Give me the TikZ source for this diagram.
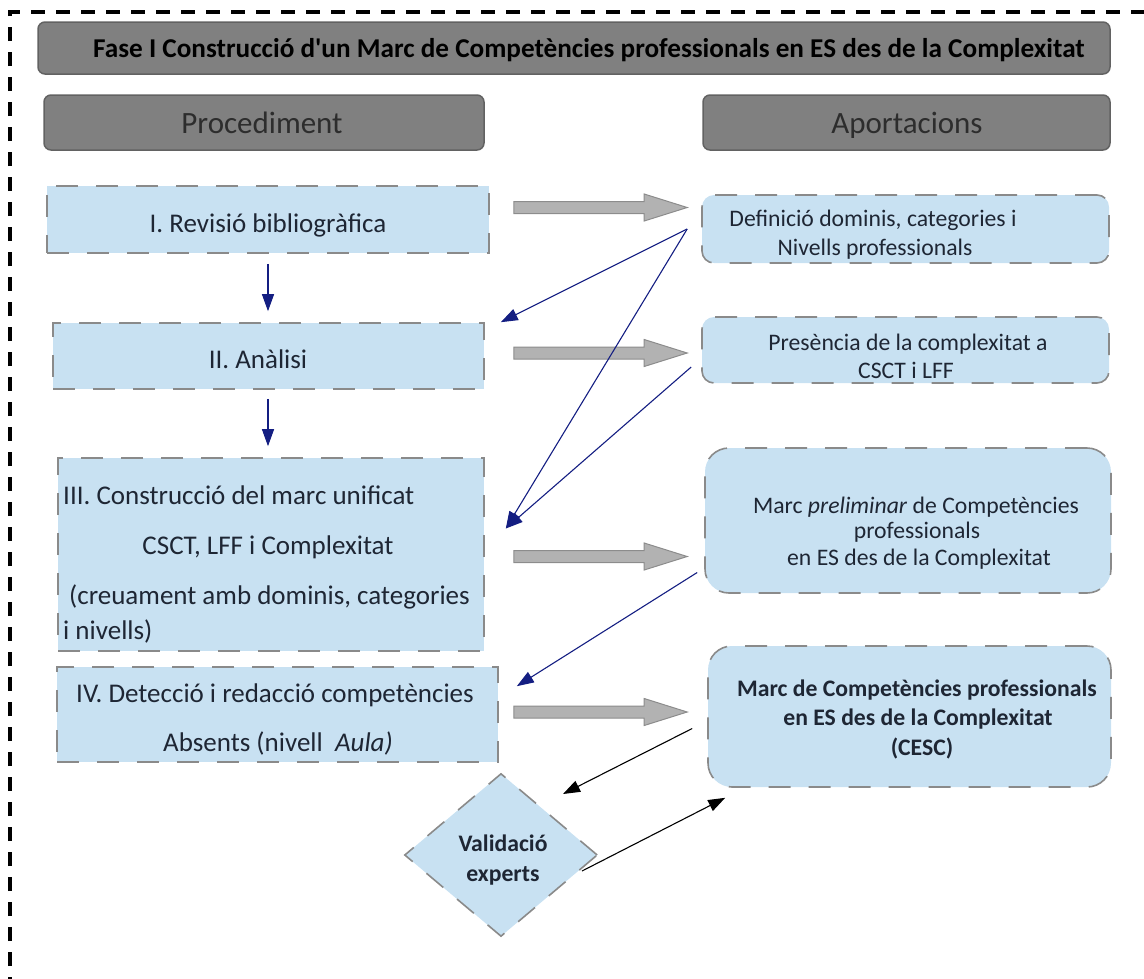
\documentclass[tikz,border=0pt]{standalone}
\usepackage{fontspec}
\setmainfont{Carlito}[Ligatures=TeXOff]
\usetikzlibrary{shapes.geometric,arrows.meta,calc}

\definecolor{boxfill}{RGB}{200,225,242}
\definecolor{boxline}{RGB}{138,138,138}
\definecolor{headfill}{RGB}{128,128,128}
\definecolor{headline}{RGB}{98,98,98}
\definecolor{navy}{RGB}{20,30,130}
\definecolor{inktext}{RGB}{30,38,52}
\definecolor{headtext}{RGB}{45,45,45}
\definecolor{barfill}{RGB}{178,178,178}
\definecolor{barline}{RGB}{140,140,140}

\begin{document}
\begin{tikzpicture}[x=1pt,y=-1pt,
  header/.style={draw=headline, line width=1.5pt, fill=headfill, rounded corners=7pt, inner sep=0pt},
  stepbox/.style={draw=boxline, line width=1.6pt, dash pattern=on 22pt off 18pt, fill=boxfill, inner sep=0pt},
  outbox/.style={stepbox, rounded corners=#1},
  titletxt/.style={inner sep=0pt, anchor=base, text=black, font=\bfseries\fontsize{27.2}{32}\selectfont},
  headtxt/.style={inner sep=0pt, anchor=base, text=headtext, font=\fontsize{31}{36}\selectfont},
  txt/.style={inner sep=0pt, anchor=base, text=inktext, font=\fontsize{27}{33}\selectfont},
  rtxt/.style={inner sep=0pt, anchor=base, text=inktext, font=\fontsize{23.7}{28}\selectfont},
  btxt/.style={inner sep=0pt, anchor=base, text=inktext, font=\bfseries\fontsize{23.7}{28}\selectfont},
  navyarrow/.style={draw=navy, line width=1.1pt, -{Triangle[length=17pt,width=12pt]}},
  blackarrow/.style={draw=black, line width=1.1pt, -{Triangle[length=17pt,width=12pt]}},
  grayarrow/.style={fill=barfill, draw=barline, line width=1pt},
]
\useasboundingbox (0,0) rectangle (1144,978);

% outer dashed frame (top and left edges)
\begin{scope}
  \clip (0,0) rectangle (1144,978);
  \draw[line width=4.5pt, dash pattern=on 14pt off 11pt] (10,991) -- (10,12) -- (1170,12);
\end{scope}

% header bars
\node[header, minimum width=1072pt, minimum height=52pt] (title) at (574,48) {};
\node[header, minimum width=440pt, minimum height=55pt] (proc) at (264,122.5) {};
\node[header, minimum width=407pt, minimum height=55pt] (aport) at (906.5,122.5) {};
\node[titletxt] (ttitle) at (589,57) {Fase I Construcció d'un Marc de Competències professionals en ES des de la Complexitat};
\node[headtxt] (tproc) at (262,133) {Procediment};
\node[headtxt] (taport) at (907,133) {Aportacions};

% procedure steps
\node[stepbox, minimum width=442pt, minimum height=67pt] (b1) at (268,219.5) {};
\node[stepbox, minimum width=431pt, minimum height=66pt] (b2) at (268.5,356) {};
\node[stepbox, minimum width=426pt, minimum height=193pt] (b3) at (271,554.5) {};
\node[stepbox, minimum width=441pt, minimum height=95pt] (b4) at (277.5,714.5) {};
\node[stepbox, diamond, aspect=1.18, minimum width=193pt, minimum height=163pt] (dia) at (501,855) {};

\node[txt] (t1) at (268,232) {I. Revisió bibliogràfica};
\node[txt] (t2) at (258,368) {II. Anàlisi};
\node[txt, anchor=base west] (t3a) at (63,504) {III. Construcció del marc unificat};
\node[txt] (t3b) at (268,554) {CSCT, LFF i Complexitat};
\node[txt, anchor=base west] (t3c) at (69,604) {(creuament amb dominis, categories};
\node[txt, anchor=base west] (t3d) at (63,639) {i nivells)};
\node[txt] (t4a) at (275,702) {IV. Detecció i redacció competències};
\node[txt] (t4b) at (278,751) {Absents (nivell\ \ \textit{Aula)}};
\node[btxt] (td1) at (503,851) {Validació};
\node[btxt] (td2) at (503,881) {experts};

% contributions
\node[outbox=12pt, minimum width=407pt, minimum height=68pt] (r1) at (905.5,229) {};
\node[outbox=12pt, minimum width=407pt, minimum height=66pt] (r2) at (905.5,350) {};
\node[outbox=24pt, minimum width=406pt, minimum height=145pt] (r3) at (908,520.5) {};
\node[outbox=24pt, minimum width=403pt, minimum height=141pt] (r4) at (909.5,716.5) {};

\node[rtxt] (tr1a) at (873,226) {Definició dominis, categories i};
\node[rtxt] (tr1b) at (875,255) {Nivells professionals};
\node[rtxt] (tr2a) at (908,350) {Presència de la complexitat a};
\node[rtxt] (tr2b) at (906,378) {CSCT i LFF};
\node[rtxt] (tr3a) at (916,513) {Marc \textit{preliminar} de Competències};
\node[rtxt] (tr3b) at (917,538) {professionals};
\node[rtxt] (tr3c) at (919,565) {en ES des de la Complexitat};
\node[btxt] (tr4a) at (917,696) {Marc de Competències professionals};
\node[btxt] (tr4b) at (918,725) {en ES des de la Complexitat};
\node[btxt] (tr4c) at (922,755) {(CESC)};

% wide grey arrows from each step to its contribution
\draw[grayarrow] let \p1=([xshift=24pt,yshift=12pt]b1.east), \p2=([xshift=-14pt]r1.west) in
  (\x1,\y1+6pt) -- (\x2-43pt,\y1+6pt) -- (\x2-43pt,\y1+13.5pt) -- (\x2,\y1) -- (\x2-43pt,\y1-13.5pt) -- (\x2-43pt,\y1-6pt) -- (\x1,\y1-6pt) -- cycle;
\draw[grayarrow] let \p1=([xshift=29pt,yshift=3pt]b2.east), \p2=([xshift=-14pt]r2.west) in
  (\x1,\y1+6pt) -- (\x2-43pt,\y1+6pt) -- (\x2-43pt,\y1+13.5pt) -- (\x2,\y1) -- (\x2-43pt,\y1-13.5pt) -- (\x2-43pt,\y1-6pt) -- (\x1,\y1-6pt) -- cycle;
\draw[grayarrow] let \p1=([xshift=29pt,yshift=-2pt]b3.east), \p2=([xshift=-17pt]r3.west) in
  (\x1,\y1+6pt) -- (\x2-43pt,\y1+6pt) -- (\x2-43pt,\y1+13.5pt) -- (\x2,\y1) -- (\x2-43pt,\y1-13.5pt) -- (\x2-43pt,\y1-6pt) -- (\x1,\y1-6pt) -- cycle;
\draw[grayarrow] let \p1=([xshift=15pt,yshift=2.5pt]b4.east), \p2=([xshift=-20pt]r4.west) in
  (\x1,\y1+6pt) -- (\x2-43pt,\y1+6pt) -- (\x2-43pt,\y1+13.5pt) -- (\x2,\y1) -- (\x2-43pt,\y1-13.5pt) -- (\x2-43pt,\y1-6pt) -- (\x1,\y1-6pt) -- cycle;

% sequence of steps
\draw[navyarrow] ([yshift=-10pt]b1.south -| t1) -- ([yshift=11pt]b2.north -| t1);
\draw[navyarrow] ([yshift=-9pt]b2.south -| t1) -- ([yshift=11pt]b3.north -| t1);

% feedback from contributions into later steps
\draw[navyarrow] ([xshift=-14pt]r1.west) -- ([xshift=16pt]b2.north east);
\draw[navyarrow] ([xshift=-14pt]r1.west) -- ([xshift=21pt,yshift=26pt]b3.east);
\draw[navyarrow] ([xshift=-10pt,yshift=-17pt]r2.west) -- ([xshift=21pt,yshift=26pt]b3.east);
\draw[navyarrow] ([xshift=-7pt,yshift=-52pt]r3.west) -- ([xshift=18pt,yshift=-20pt]b4.north east);

% expert validation loop
\draw[blackarrow] ([xshift=-15pt,yshift=-12pt]r4.west) -- ([xshift=62pt,yshift=61pt]dia.center);
\draw[blackarrow] ([xshift=81pt,yshift=-16pt]dia.center) -- ([xshift=18pt,yshift=-10pt]r4.south west);
\end{tikzpicture}
\end{document}
